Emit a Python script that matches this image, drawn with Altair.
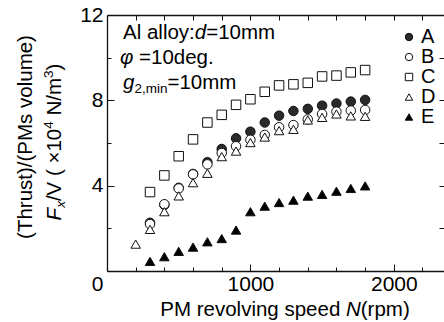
import altair as alt
import pandas as pd

# ---------------- data ----------------
speed = [300, 400, 500, 600, 700, 800, 900, 1000, 1100, 1200, 1300, 1400, 1500, 1600, 1700, 1800]
speed_D = [200, 300, 400, 500, 600, 700, 800, 900, 1000, 1100, 1200, 1300, 1400, 1500, 1600, 1700, 1800]
thrust_A = [2.26, 3.10, 3.90, 4.55, 5.10, 5.72, 6.22, 6.53, 6.96, 7.28, 7.50, 7.60, 7.75, 7.85, 7.94, 8.02]
thrust_B = [2.20, 3.13, 3.87, 4.53, 5.00, 5.53, 5.85, 6.15, 6.38, 6.74, 6.84, 7.11, 7.36, 7.47, 7.52, 7.55]
thrust_C = [3.70, 4.48, 5.38, 6.17, 6.96, 7.32, 7.79, 8.05, 8.40, 8.70, 8.75, 8.82, 9.12, 9.16, 9.31, 9.42]
thrust_D = [1.26, 1.95, 2.78, 3.52, 4.14, 4.58, 5.36, 5.62, 6.02, 6.28, 6.58, 6.64, 7.08, 7.20, 7.36, 7.27, 7.25]
thrust_E = [0.45, 0.67, 0.92, 1.12, 1.37, 1.52, 1.92, 2.78, 3.04, 3.21, 3.32, 3.51, 3.59, 3.74, 3.87, 3.99]

series_names = ["A", "B", "C", "D", "E"]
series_shapes = ["circle", "circle", "square", "triangle-up", "triangle-up"]
series_fills = ["#2a2a2a", "white", "white", "white", "black"]
series_strokes = ["#111111", "#111111", "#111111", "#111111", "#111111"]

x_major = [0, 1000, 2000]
x_minor = [200, 400, 600, 800, 1200, 1400, 1600, 1800, 2200]
x_all = [200, 400, 600, 800, 1000, 1200, 1400, 1600, 1800, 2000, 2200]
y_major = [4, 8, 12]
y_minor = [2, 6, 10]
y_all = [2, 4, 6, 8, 10]

x_domain = [0, 2350]
y_domain = [0, 12]

rows = []
for name, xs, ys in [("A", speed, thrust_A), ("B", speed, thrust_B), ("C", speed, thrust_C),
                     ("D", speed_D, thrust_D), ("E", speed, thrust_E)]:
    for xv, yv in zip(xs, ys):
        rows.append({"series": name, "N": xv, "F": yv})
df = pd.DataFrame(rows)

# ---------------- layout ----------------
FONT = "Liberation Sans"
L, T, W, H = 107, 15, 337, 256
INK = "#111111"

EM = {" ": .278, "(": .333, ")": .333, "/": .278, ":": .278, "=": .584, ".": .278, ",": .278,
      "\u00d7": .584, "\u03c6": .65,
      "A": .667, "F": .611, "M": .833, "N": .722, "P": .667, "T": .611, "V": .667,
      "a": .556, "d": .556, "e": .556, "g": .556, "h": .556, "i": .222, "l": .222, "m": .833,
      "n": .556, "o": .556, "p": .556, "r": .333, "s": .5, "t": .278, "u": .556, "v": .5,
      "x": .5, "y": .5}


def tw(s, size):
    return sum(EM.get(c, .556) for c in s) * size


one = alt.Data(values=[{"k": 0}])


def txt(s, x, y, size, italic=False, angle=0, align="left"):
    kw = dict(text=s, font=FONT, fontSize=size, align=align, baseline="alphabetic",
              color="black", fontStyle="italic" if italic else "normal")
    if angle:
        kw["angle"] = angle
    return alt.Chart(one).mark_text(**kw).encode(x=alt.value(x - L), y=alt.value(y - T))


def run(pieces, x0, y0, vertical=False):
    out = []
    pos = 0.0
    for s, size, italic, shift in pieces:
        stripped = s.lstrip(" ")
        pos += tw(s[: len(s) - len(stripped)], size)
        core = stripped.rstrip(" ")
        if vertical:
            out.append(txt(core, x0 - shift, y0 - pos, size, italic, angle=270))
        else:
            out.append(txt(core, x0 + pos, y0 - shift, size, italic))
        pos += tw(stripped, size)
    return out


def total(pieces):
    return sum(tw(s, size) for s, size, _, _ in pieces)


# annotation inside the plot
notes = []
notes += run([("Al alloy:", 20.5, False, 0), ("d", 20.5, True, 0), ("=10mm", 20.5, False, 0)], 123, 38.5)
notes += run([("\u03c6", 20.5, True, 0), (" =10deg.", 20.5, False, 0)], 120, 63.5)
notes += run([("g", 20.5, True, 0), ("2,min", 13.5, False, -4), ("=10mm", 20.5, False, 0)], 123, 88.5)

# x title
xt = [("PM revolving speed ", 20.5, False, 0), ("N", 20.5, True, 0), ("(rpm)", 20.5, False, 0)]
notes += run(xt, 285 - total(xt) / 2, 316)

# y title (two rotated lines)
notes.append(txt("(Thrust)/(PMs volume)", 32, 137, 20.5, angle=270, align="center"))
yt = [("F", 20.5, True, 0), ("x", 13.5, True, -4), ("/V ( \u00d710", 20.5, False, 0), ("4", 13.5, False, 8),
      (" N/m", 20.5, False, 0), ("3", 13.5, False, 8), (")", 20.5, False, 0)]
notes += run(yt, 61, 142 + total(yt) / 2, vertical=True)

# ---------------- scales / axes ----------------
xscale = alt.Scale(domain=x_domain, nice=False, zero=False)
yscale = alt.Scale(domain=y_domain, nice=False, zero=False)

common = dict(title=None, grid=False, tickColor=INK, tickWidth=1, domainColor=INK, domainWidth=1.3)

legend = alt.Legend(orient="none", legendX=292, legendY=12, title=None, labelFont=FONT,
                    labelFontSize=20, labelColor="black", symbolSize=55, symbolStrokeWidth=1,
                    labelOffset=2, rowPadding=0, padding=0)

base = alt.Chart(df)

points = base.mark_point(filled=True, size=90, strokeWidth=1, opacity=1).encode(
    x=alt.X("N:Q", scale=xscale, axis=alt.Axis(
        orient="bottom", values=x_major, format="d", tickSize=alt.ExprRef(expr="-7"), labelFont=FONT,
        labelFontSize=21, labelColor="black", labelPadding=9, labelFlush=False, labelOverlap=False,
        labelOffset={"condition": {"test": "datum.value === 0", "value": -10}, "value": 0},
        **common)),
    y=alt.Y("F:Q", scale=yscale, axis=alt.Axis(
        orient="left", values=y_major, format="d", tickSize=alt.ExprRef(expr="-7"), labelFont=FONT,
        labelFontSize=21, labelColor="black", labelPadding=11, labelOverlap=False, **common)),
    shape=alt.Shape("series:N", scale=alt.Scale(domain=series_names, range=series_shapes), legend=legend),
    fill=alt.Fill("series:N", scale=alt.Scale(domain=series_names, range=series_fills), legend=legend),
    stroke=alt.Stroke("series:N", scale=alt.Scale(domain=series_names, range=series_strokes), legend=legend),
)

inv = base.mark_point(opacity=0)
minor = inv.encode(
    x=alt.X("N:Q", scale=xscale, axis=alt.Axis(orient="bottom", values=x_minor, labels=False,
                                               domain=False, tickSize=alt.ExprRef(expr="-4"), **common)),
    y=alt.Y("F:Q", scale=yscale, axis=alt.Axis(orient="left", values=y_minor, labels=False,
                                               domain=False, tickSize=alt.ExprRef(expr="-4"), **common)),
)
frame = inv.encode(
    x=alt.X("N:Q", scale=xscale, axis=alt.Axis(orient="top", values=x_all, labels=False,
                                               domain=True, tickSize=alt.ExprRef(expr="-5"), **common)),
    y=alt.Y("F:Q", scale=yscale, axis=alt.Axis(orient="right", values=y_all, labels=False,
                                               domain=False, tickSize=alt.ExprRef(expr="-5"), **common)),
)

chart = alt.layer(minor, frame, points, *notes).resolve_axis(
    x="independent", y="independent"
).properties(
    width=W, height=H,
    autosize=alt.AutoSizeParams(type="none"),
    padding={"left": L, "top": T, "right": 444 - L - W, "bottom": 322 - T - H},
    background="white",
).configure_view(stroke=None)

chart.save("out.html", embed_options={"renderer": "svg", "actions": False})
